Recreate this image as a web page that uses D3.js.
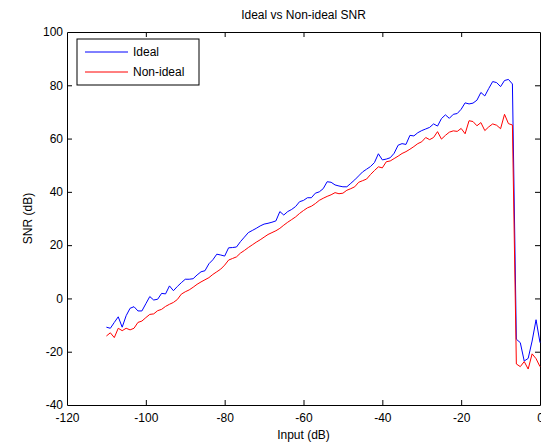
<!DOCTYPE html>
<html>
<head>
<meta charset="utf-8">
<script src="https://cdn.jsdelivr.net/npm/d3@7"></script>
<style>
  body { margin: 0; background: #fff; }
  text { font-family: Arial, "Liberation Sans", Helvetica, sans-serif; }
</style>
</head>
<body>
<div id="chart"></div>
<script>
// input level in dB, 1 dB steps from -110 to 0
const inputDb = d3.range(-110, 1, 1);

const idealSnr = [
  -10.8, -11.2, -9, -6.9, -10.8, -6.5, -3.7, -3.1, -4.7, -4.7,
  -2, 0.7, -0.6, -0.3, 1.9, 1.7, 4.7, 2.9, 4.5, 5.9,
  7.2, 7.2, 7.4, 8.8, 10, 10.4, 13, 14.5, 16.6, 16.3,
  15.9, 19, 19.1, 19.3, 21.3, 23, 24.7, 25.5, 26.3, 27.2,
  27.9, 28.2, 28.6, 29.1, 32.6, 31.3, 32.6, 33.4, 34.5, 36.3,
  36.8, 37.8, 37.8, 39.5, 40, 41.2, 43.8, 43.6, 42.6, 42.2,
  41.9, 41.9, 43.2, 44.5, 46, 47.5, 48.5, 49.5, 51, 54.3,
  52, 52.3, 52.8, 54.5, 57.5, 58.1, 57.8, 61.2, 61, 62.2,
  63, 63.6, 64.2, 65.5, 64.7, 67.5, 68.9, 67.6, 69.1, 69.4,
  71, 73.4, 73, 73.3, 74.4, 77.3, 76, 78.8, 81.4, 81,
  79.5, 81.8, 82.2, 80.5, -15.3, -16.6, -23.5, -22.5, -16, -8,
  -16.6
];

const nonIdealSnr = [
  -14.1, -12.9, -14.7, -11.2, -12.1, -11.2, -11.8, -11.2, -9, -8.5,
  -7.2, -6, -5.8, -4.6, -4.1, -3, -2.2, -1.5, -0.4, 1.6,
  2.5, 3.2, 4.2, 5.3, 6.2, 7, 7.8, 9, 10, 11,
  12.5, 14.4, 15, 15.6, 17, 18, 19.1, 20.1, 21.1, 22,
  23, 24, 24.7, 25.4, 26.3, 27.5, 28.6, 29.6, 30.6, 31.9,
  33, 34, 34.6, 35.6, 36.8, 37.6, 38.3, 38.9, 39.7, 39.3,
  39.5, 40.6, 41.2, 41.9, 43.6, 44.2, 44.8, 46.5, 48, 49.4,
  49, 51.3, 51.6, 52.5, 53.4, 54.4, 55.1, 56, 57, 58.1,
  58.8, 60.4, 59.6, 60.4, 62.6, 59.8, 61.2, 62.4, 62.9, 62.7,
  63.8, 61.8, 66.7, 66.4, 64.8, 66, 63, 64.4, 65.5, 65,
  63.7, 69.1, 65.6, 65.1, -24.6, -25.6, -23.7, -26.5, -20.8, -22.6,
  -25.6
];

const xTicks = [-120, -100, -80, -60, -40, -20, 0];
const yTicks = [-40, -20, 0, 20, 40, 60, 80, 100];

const series = [
  { name: "Ideal", values: idealSnr, color: "#0000ff" },
  { name: "Non-ideal", values: nonIdealSnr, color: "#ff0000" }
];

const width = 541, height = 445;
const margin = { top: 32, right: 1, bottom: 40, left: 67 };

const svg = d3.select("#chart").append("svg")
    .attr("width", width)
    .attr("height", height);

const x = d3.scaleLinear().domain([-120, 0]).range([margin.left, width - margin.right]);
const y = d3.scaleLinear().domain([-40, 100]).range([height - margin.bottom, margin.top]);

// axes, MATLAB style: ticks pointing inward on all four sides
const tickLen = 5;
const axisFont = "12px";
const plain = d => String(d);   // hyphen-minus like matlab, not the unicode minus

const axBottom = svg.append("g")
    .attr("transform", `translate(0,${y(-40)})`)
    .call(d3.axisBottom(x).tickValues(xTicks).tickFormat(plain).tickSize(-tickLen).tickPadding(8).tickSizeOuter(0));
const axTop = svg.append("g")
    .attr("transform", `translate(0,${y(100)})`)
    .call(d3.axisTop(x).tickValues(xTicks).tickSize(-tickLen).tickFormat("").tickSizeOuter(0));
const axLeft = svg.append("g")
    .attr("transform", `translate(${x(-120)},0)`)
    .call(d3.axisLeft(y).tickValues(yTicks).tickFormat(plain).tickSize(-tickLen).tickPadding(4).tickSizeOuter(0));
const axRight = svg.append("g")
    .attr("transform", `translate(${x(0)},0)`)
    .call(d3.axisRight(y).tickValues(yTicks).tickSize(-tickLen).tickFormat("").tickSizeOuter(0));

[axBottom, axTop, axLeft, axRight].forEach(g => {
  g.select(".domain").attr("stroke", "#000").attr("stroke-width", 1);
  g.selectAll(".tick line").attr("stroke", "#000");
  g.selectAll(".tick text")
      .attr("fill", "#000")
      .style("font-size", axisFont)
      .style("font-family", "Arial, 'Liberation Sans', sans-serif");
});
// hide end ticks that sit on the box corners
axBottom.selectAll(".tick line").filter(d => d === -120 || d === 0).remove();
axTop.selectAll(".tick line").filter(d => d === -120 || d === 0).remove();
axLeft.selectAll(".tick line").filter(d => d === -40 || d === 100).remove();
axRight.selectAll(".tick line").filter(d => d === -40 || d === 100).remove();

// lines
const line = d3.line()
    .x((d, i) => x(inputDb[i]))
    .y(d => y(d));

svg.append("g")
    .selectAll("path")
    .data(series)
    .join("path")
    .attr("fill", "none")
    .attr("stroke", d => d.color)
    .attr("stroke-width", 1)
    .attr("d", d => line(d.values));

// title and axis labels
svg.append("text")
    .attr("x", (x(-120) + x(0)) / 2)
    .attr("y", 19)
    .attr("text-anchor", "middle")
    .style("font-size", "12px")
    .text("Ideal vs Non-ideal SNR");

svg.append("text")
    .attr("x", (x(-120) + x(0)) / 2)
    .attr("y", 439)
    .attr("text-anchor", "middle")
    .style("font-size", "12px")
    .text("Input (dB)");

svg.append("text")
    .attr("transform", `translate(32,${(y(-40) + y(100)) / 2}) rotate(-90)`)
    .attr("text-anchor", "middle")
    .style("font-size", "12px")
    .text("SNR (dB)");

// legend
const legend = svg.append("g").attr("transform", "translate(77,39)");
legend.append("rect")
    .attr("width", 122)
    .attr("height", 46)
    .attr("fill", "#fff")
    .attr("stroke", "#000")
    .attr("stroke-width", 1);

const item = legend.selectAll("g.item")
    .data(series)
    .join("g")
    .attr("class", "item")
    .attr("transform", (d, i) => `translate(0,${13 + i * 20})`);

item.append("line")
    .attr("x1", 8).attr("x2", 51)
    .attr("stroke", d => d.color)
    .attr("stroke-width", 1);

item.append("text")
    .attr("x", 56)
    .attr("dy", "0.35em")
    .style("font-size", "12px")
    .text(d => d.name);
</script>
</body>
</html>
